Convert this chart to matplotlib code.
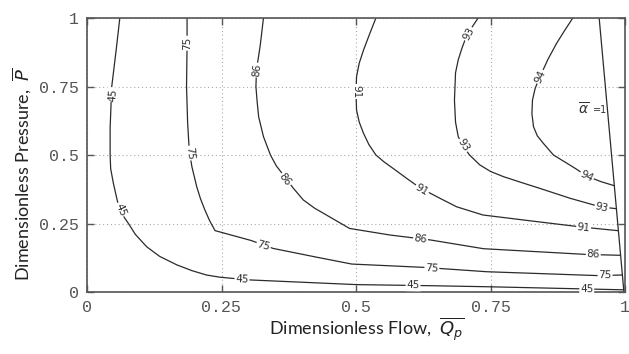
import numpy as np
import matplotlib
matplotlib.use("Agg")
import matplotlib.pyplot as plt

# contour lines (x = flow, y = pressure)
levels = [45, 75, 86, 91, 93, 94]

c45_x = [0.061, 0.054, 0.046, 0.043, 0.043, 0.044, 0.049, 0.056, 0.061, 0.07, 0.077, 0.09, 0.111, 0.135,
         0.167, 0.195, 0.222, 0.247, 0.303, 0.5, 0.638, 0.749, 0.997]
c45_y = [1.0, 0.88, 0.75, 0.6, 0.5, 0.45, 0.397, 0.336, 0.30, 0.27, 0.25, 0.21, 0.165, 0.13,
         0.099, 0.078, 0.062, 0.054, 0.044, 0.027, 0.023, 0.019, 0.008]

c75_x = [0.186, 0.186, 0.185, 0.187, 0.19, 0.195, 0.204, 0.211, 0.219, 0.228, 0.238, 0.305, 0.346,
         0.427, 0.492, 0.625, 0.743, 0.947, 0.994]
c75_y = [1.0, 0.9, 0.75, 0.62, 0.518, 0.457, 0.384, 0.34, 0.30, 0.26, 0.224, 0.188, 0.159,
         0.127, 0.102, 0.09, 0.074, 0.06, 0.062]

c86_x = [0.328, 0.322, 0.315, 0.314, 0.316, 0.319, 0.328, 0.341, 0.352, 0.365, 0.383, 0.402, 0.423,
         0.445, 0.488, 0.563, 0.638, 0.737, 0.929, 0.991]
c86_y = [1.0, 0.9, 0.81, 0.75, 0.7, 0.64, 0.567, 0.5, 0.46, 0.427, 0.38, 0.336, 0.306,
         0.281, 0.232, 0.208, 0.19, 0.158, 0.137, 0.134]

c91_x = [0.537, 0.525, 0.514, 0.506, 0.501, 0.5, 0.501, 0.506, 0.514, 0.524, 0.537, 0.552, 0.569,
         0.594, 0.619, 0.656, 0.687, 0.736, 0.823, 0.92, 0.986]
c91_y = [1.0, 0.94, 0.883, 0.835, 0.786, 0.731, 0.664, 0.62, 0.579, 0.538, 0.5, 0.475, 0.451,
         0.415, 0.38, 0.342, 0.311, 0.281, 0.26, 0.237, 0.224]

c93_x = [0.727, 0.706, 0.697, 0.69, 0.685, 0.684, 0.683, 0.685, 0.69, 0.70, 0.711, 0.73, 0.75,
         0.774, 0.81, 0.842, 0.898, 0.954, 0.984]
c93_y = [1.0, 0.938, 0.89, 0.847, 0.80, 0.75, 0.70, 0.62, 0.567, 0.53, 0.5, 0.464, 0.44,
         0.421, 0.398, 0.378, 0.342, 0.311, 0.304]

c94_x = [0.903, 0.888, 0.873, 0.857, 0.842, 0.833, 0.828, 0.827, 0.83, 0.837, 0.848, 0.867, 0.892,
         0.91, 0.929, 0.955, 0.98]
c94_y = [1.0, 0.955, 0.908, 0.85, 0.786, 0.743, 0.70, 0.65, 0.603, 0.57, 0.543, 0.5, 0.47,
         0.448, 0.423, 0.403, 0.388]

alpha_x = [0.952, 0.998]
alpha_y = [1.0, 0.0]

# where the inline labels sit on each line
lab45 = [(0.048, 0.72), (0.062, 0.30), (0.288, 0.046), (0.606, 0.024), (0.929, 0.012)]
lab75 = [(0.186, 0.908), (0.191, 0.507), (0.328, 0.168), (0.641, 0.086), (0.963, 0.060)]
lab86 = [(0.315, 0.81), (0.368, 0.409), (0.62, 0.194), (0.941, 0.136)]
lab91 = [(0.5, 0.731), (0.622, 0.372), (0.923, 0.236)]
lab93 = [(0.709, 0.942), (0.70, 0.536), (0.957, 0.309)]
lab94 = [(0.842, 0.786), (0.929, 0.423)]

ticks = [0, 0.25, 0.5, 0.75, 1]
tick_labels = ["0", "0.25", "0.5", "0.75", "1"]

lines = [(c45_x, c45_y, lab45), (c75_x, c75_y, lab75), (c86_x, c86_y, lab86),
         (c91_x, c91_y, lab91), (c93_x, c93_y, lab93), (c94_x, c94_y, lab94)]

line_color = "#2b2b2b"
fig = plt.figure(figsize=(6.29, 3.54), dpi=100)
ax = fig.add_axes([87 / 629, 62 / 354, 538 / 629, 274 / 354])
ax.set_xlim(0, 1)
ax.set_ylim(0, 1)

for xs, ys, _ in lines:
    ax.plot(xs, ys, color=line_color, lw=0.9)
ax.plot(alpha_x, alpha_y, color=line_color, lw=0.9)


def label_angle(xs, ys, px, py):
    pts = ax.transData.transform(np.column_stack([xs, ys]))
    p = ax.transData.transform((px, py))
    i = int(np.argmin(np.hypot(pts[:, 0] - p[0], pts[:, 1] - p[1])))
    a = pts[max(i - 1, 0)]
    b = pts[min(i + 1, len(pts) - 1)]
    ang = np.degrees(np.arctan2(b[1] - a[1], b[0] - a[0]))
    if ang > 90:
        ang -= 180
    if ang < -90:
        ang += 180
    return ang


for lev, (xs, ys, labs) in zip(levels, lines):
    for px, py in labs:
        ax.text(px, py, str(lev), fontsize=7.5, color=line_color,
                rotation=label_angle(xs, ys, px, py), rotation_mode="anchor",
                ha="center", va="center",
                bbox=dict(facecolor="white", edgecolor="none", pad=0.6))

ax.text(0.912, 0.665, r"$\overline{\alpha}$", fontsize=10, color="#333333",
        ha="left", va="center")
ax.text(0.941, 0.665, "=1", fontsize=7, color="#333333", ha="left", va="center")

# axes styling
ax.set_xticks(ticks)
ax.set_yticks(ticks)
ax.set_xticklabels(tick_labels)
ax.set_yticklabels(tick_labels)
for lab in ax.get_xticklabels() + ax.get_yticklabels():
    lab.set_fontfamily("Liberation Mono")
    lab.set_fontsize(12)
    lab.set_color("#555555")
ax.tick_params(direction="in", length=5, width=1, color="#555555",
               top=True, right=True, pad=6)
for s in ax.spines.values():
    s.set_color("#555555")
    s.set_linewidth(1.2)
ax.grid(True, linestyle=(0, (1, 2.5)), color="#aaaaaa", lw=0.8)

ax.set_xlabel(r"Dimensionless Flow,  $\overline{Q_p}$", fontsize=13,
              fontfamily="Lato", color="#222222")
ax.set_ylabel(r"Dimensionless Pressure,  $\overline{P}$", fontsize=13,
              fontfamily="Lato", color="#222222")
ax.xaxis.set_label_coords(0.52, -0.085)
ax.yaxis.set_label_coords(-0.098, 0.43)

fig.savefig("out.png", dpi=100)
